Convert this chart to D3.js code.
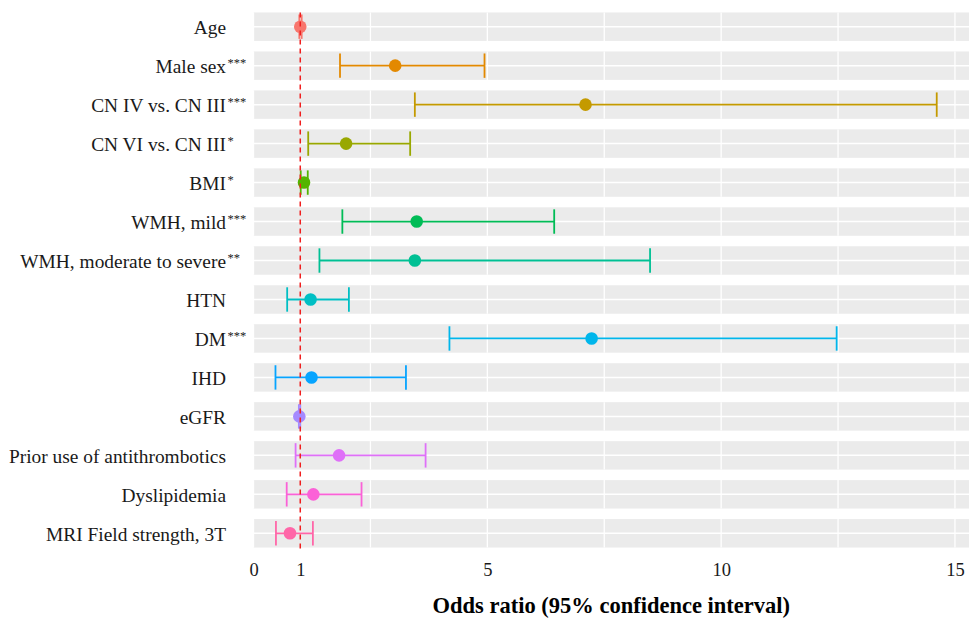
<!DOCTYPE html>
<meta charset="utf-8">
<html>
<head>
    <script type="text/javascript" src="https://cdn.jsdelivr.net/npm/d3@7/dist/d3.min.js" charset="utf-8"></script>
    <style>
        body { margin: 0; background: #fff; }
        text { font-family: "Liberation Serif", "DejaVu Serif", serif; fill: #1a1a1a; }
    </style>
</head>
<body>
    <svg class="chart"></svg>

    <script type="text/javascript">
        // DATA
        var labels = ["Age", "Male sex", "CN IV vs. CN III", "CN VI vs. CN III", "BMI",
            "WMH, mild", "WMH, moderate to severe", "HTN", "DM", "IHD", "eGFR",
            "Prior use of antithrombotics", "Dyslipidemia", "MRI Field strength, 3T"];
        var stars = ["", "***", "***", "*", "*", "***", "**", "", "***", "", "", "", "", ""];
        var oddsRatio = [1.00, 3.03, 7.10, 1.98, 1.08, 3.49, 3.45, 1.22, 7.23, 1.24, 0.98, 1.83, 1.28, 0.78];
        var lowerCI   = [0.98, 1.85, 3.45, 1.17, 1.01, 1.90, 1.41, 0.72, 4.19, 0.47, 0.97, 0.90, 0.71, 0.48];
        var upperCI   = [1.03, 4.94, 14.61, 3.35, 1.16, 6.43, 8.48, 2.04, 12.47, 3.26, 1.00, 3.68, 2.31, 1.27];
        var tickValues = [0, 1, 5, 10, 15];
        var gridValues = [0, 2.5, 5, 7.5, 10, 12.5, 15];
        var refLine = 1;

        // ggplot default hue palette, 14 levels
        var colors = ["#F8766D", "#E38900", "#C49A00", "#99A800", "#53B400", "#00BC56", "#00C094",
            "#00BFC4", "#00B6EB", "#06A4FF", "#A58AFF", "#DF70F8", "#FB61D7", "#FF66A8"];

        var rows = labels.map(function(d, i) {
            return { label: d, star: stars[i], est: oddsRatio[i], lo: lowerCI[i], hi: upperCI[i], color: colors[i] };
        });

        // LAYOUT
        var width = 969,
            height = 618;

        var svg = d3.select(".chart")
            .attr("width", width)
            .attr("height", height);

        var x = d3.scaleLinear()
            .domain([0, 15.3])
            .range([253.5, 969]);

        var y = d3.scaleBand()
            .domain(labels)
            .range([7.2, 552.8])
            .paddingInner(0.27)
            .paddingOuter(0.135);

        var bw = y.bandwidth();

        // panel bands
        var band = svg.selectAll(".band")
            .data(rows)
            .enter()
            .append("g")
            .attr("class", "band")
            .attr("transform", function(d) { return "translate(0," + y(d.label) + ")"; });

        band.append("rect")
            .attr("x", x.range()[0])
            .attr("width", x.range()[1] - x.range()[0])
            .attr("height", bw)
            .attr("fill", "#EBEBEB");

        band.selectAll(".vgrid")
            .data(gridValues)
            .enter()
            .append("line")
            .attr("x1", function(v) { return x(v); })
            .attr("x2", function(v) { return x(v); })
            .attr("y1", 0)
            .attr("y2", bw)
            .attr("stroke", "#fff")
            .attr("stroke-width", 1.3);

        band.append("line")
            .attr("x1", x.range()[0])
            .attr("x2", x.range()[1])
            .attr("y1", bw / 2)
            .attr("y2", bw / 2)
            .attr("stroke", "#fff")
            .attr("stroke-width", 1.5);

        // error bars
        var capH = 12.2;
        var bars = svg.selectAll(".bar")
            .data(rows)
            .enter()
            .append("g")
            .attr("class", "bar")
            .attr("transform", function(d) { return "translate(0," + (y(d.label) + bw / 2) + ")"; })
            .attr("stroke", function(d) { return d.color; })
            .attr("stroke-width", 1.8);

        bars.append("line")
            .attr("x1", function(d) { return x(d.lo); })
            .attr("x2", function(d) { return x(d.hi); });
        bars.append("line")
            .attr("x1", function(d) { return x(d.lo); })
            .attr("x2", function(d) { return x(d.lo); })
            .attr("y1", -capH).attr("y2", capH);
        bars.append("line")
            .attr("x1", function(d) { return x(d.hi); })
            .attr("x2", function(d) { return x(d.hi); })
            .attr("y1", -capH).attr("y2", capH);

        bars.append("circle")
            .attr("cx", function(d) { return x(d.est); })
            .attr("r", 6.3)
            .attr("stroke", "none")
            .attr("fill", function(d) { return d.color; });

        // reference line at OR = 1
        svg.append("line")
            .attr("x1", x(refLine))
            .attr("x2", x(refLine))
            .attr("y1", 12.5)
            .attr("y2", 551)
            .attr("stroke", "#F01E1E")
            .attr("stroke-width", 1.5)
            .attr("stroke-dasharray", "5,4");

        // y labels
        var lab = svg.selectAll(".ylab")
            .data(rows)
            .enter()
            .append("g")
            .attr("class", "ylab")
            .attr("transform", function(d) { return "translate(0," + (y(d.label) + bw / 2) + ")"; });

        lab.append("text")
            .attr("x", 226)
            .attr("y", 7.5)
            .attr("text-anchor", "end")
            .style("font-size", "19.4px")
            .text(function(d) { return d.label; });

        lab.append("text")
            .attr("x", 227.5)
            .attr("y", 1.5)
            .style("font-size", "12.5px")
            .text(function(d) { return d.star; });

        // x axis
        var xAxis = d3.axisBottom(x)
            .tickValues(tickValues)
            .tickSize(0)
            .tickPadding(0)
            .tickFormat(d3.format("d"));

        var gx = svg.append("g")
            .attr("transform", "translate(0,561)")
            .call(xAxis);
        gx.select(".domain").remove();
        gx.selectAll("text")
            .attr("dy", "0.8em")
            .style("font-family", "Liberation Serif, serif")
            .style("font-size", "18.5px")
            .attr("fill", "#1a1a1a");

        svg.append("text")
            .attr("x", (x.range()[0] + x.range()[1]) / 2)
            .attr("y", 613)
            .attr("text-anchor", "middle")
            .style("font-size", "22.5px")
            .style("font-weight", "bold")
            .style("fill", "#000")
            .text("Odds ratio (95% confidence interval)");
    </script>
</body>
</html>
